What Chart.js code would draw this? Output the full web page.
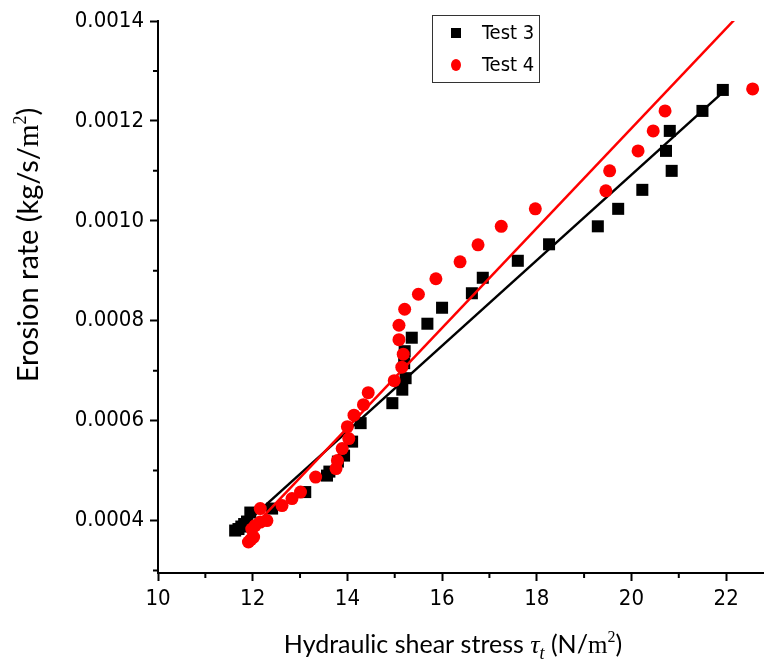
<!DOCTYPE html>
<html>
<head>
<meta charset="utf-8">
<script src="https://cdn.jsdelivr.net/npm/chart.js@4"></script>
<style>
    html, body { margin: 0; padding: 0; background: #fff; }
    canvas { display: block; }
</style>
</head>
<body>
<canvas id="erosionChart" width="764" height="668"></canvas>
<script>
// Erosion rate vs hydraulic shear stress - Test 3 / Test 4 with linear fits

const seriesNames = ['Test 3', 'Test 4'];

// Test 3 (black squares)
const test3X = [11.63, 11.70, 11.76, 11.82, 11.88, 11.95, 12.41, 13.11, 13.57, 13.62, 13.80, 13.93,
    14.10, 14.28, 14.95, 15.16, 15.23, 15.20, 15.21, 15.36, 15.69, 16.00, 16.63, 16.86, 17.60,
    18.26, 19.29, 19.72, 20.23, 20.73, 20.81, 20.85, 21.50, 21.93];
const test3Y = [0.000380, 0.000383, 0.000388, 0.000393, 0.000398, 0.000416, 0.000424, 0.000457, 0.000490, 0.000498, 0.000518, 0.000530,
    0.000558, 0.000595, 0.000635, 0.000662, 0.000685, 0.000715, 0.000739, 0.000766, 0.000794, 0.000826, 0.000855, 0.000886, 0.000920,
    0.000953, 0.000989, 0.001024, 0.001062, 0.001140, 0.001180, 0.001100, 0.001220, 0.001262];

// Test 4 (red circles)
const test4X = [11.91, 11.96, 12.02, 11.98, 12.05, 12.16, 12.16, 12.30, 12.62, 12.83, 13.01, 13.33,
    13.76, 13.79, 13.89, 14.03, 14.00, 14.14, 14.34, 14.44, 14.99, 15.15, 15.18, 15.09, 15.09,
    15.21, 15.50, 15.87, 16.38, 16.76, 17.25, 17.97, 19.46, 19.54, 20.14, 20.46, 20.71, 22.56];
const test4Y = [0.000357, 0.000362, 0.000367, 0.000383, 0.000390, 0.000397, 0.000424, 0.000400, 0.000430, 0.000444, 0.000457, 0.000487,
    0.000504, 0.000520, 0.000544, 0.000564, 0.000588, 0.000611, 0.000632, 0.000656, 0.000680, 0.000707, 0.000733, 0.000762, 0.000791,
    0.000823, 0.000853, 0.000884, 0.000918, 0.000952, 0.000989, 0.001024, 0.001060, 0.001100, 0.001140, 0.001180, 0.001220, 0.001264];

// linear fit lines, end points
const fit3X = [12.05, 21.94];
const fit3Y = [0.000412, 0.001258];
const fit4X = [12.05, 22.60];
const fit4Y = [0.000391, 0.001445];

// axis ticks
const xTicks = [10, 12, 14, 16, 18, 20, 22];
const yTicks = [0.0004, 0.0006, 0.0008, 0.0010, 0.0012, 0.0014];

const TICK_FONT = "'Liberation Sans Narrow', 'DejaVu Sans Condensed', 'Liberation Sans', sans-serif";
const TITLE_FONT = "Lato, 'Open Sans', sans-serif";
const MATH_FONT = "'Liberation Serif', 'DejaVu Serif', serif";

function toPoints(xs, ys) {
    return xs.map((x, i) => ({ x: x, y: ys[i] }));
}

// minor ticks halfway between the major ones
const minorTicks = {
    id: 'minorTicks',
    afterDraw(chart) {
        const ctx = chart.ctx;
        const xs = chart.scales.x;
        const ys = chart.scales.y;
        ctx.save();
        ctx.strokeStyle = '#000';
        ctx.lineWidth = 2;
        ctx.beginPath();
        for (let v = xs.min; v <= xs.max; v += 1) {
            if (xTicks.includes(v)) continue;
            const px = xs.getPixelForValue(v);
            ctx.moveTo(px, ys.bottom);
            ctx.lineTo(px, ys.bottom + 5);
        }
        for (let i = 0; i < yTicks.length; i++) {
            const v = yTicks[i] - 0.0001;
            if (v < ys.min) continue;
            const py = ys.getPixelForValue(v);
            ctx.moveTo(xs.left, py);
            ctx.lineTo(xs.left - 5, py);
        }
        ctx.stroke();
        ctx.restore();
    }
};

// draw a title made of pieces (plain text, math italic, sub/superscript)
function drawPieces(ctx, pieces) {
    let w = 0;
    pieces.forEach(p => { ctx.font = p.font; w += ctx.measureText(p.text).width; });
    let x = -w / 2;
    pieces.forEach(p => {
        ctx.font = p.font;
        ctx.fillText(p.text, x, p.dy || 0);
        x += ctx.measureText(p.text).width;
    });
}

const axisTitles = {
    id: 'axisTitles',
    afterDraw(chart) {
        const ctx = chart.ctx;
        ctx.save();
        ctx.fillStyle = '#000';
        ctx.textBaseline = 'alphabetic';
        ctx.textAlign = 'left';

        ctx.save();
        ctx.translate(453, 653);
        drawPieces(ctx, [
            { text: 'Hydraulic shear stress ', font: '25px ' + TITLE_FONT },
            { text: 'τ', font: 'italic 26px ' + MATH_FONT },
            { text: 't', font: 'italic 18px ' + MATH_FONT, dy: 6 },
            { text: ' (N/', font: '25px ' + TITLE_FONT },
            { text: 'm', font: '25px ' + MATH_FONT },
            { text: '2', font: '16px ' + MATH_FONT, dy: -11 },
            { text: ')', font: '25px ' + TITLE_FONT }
        ]);
        ctx.restore();

        ctx.save();
        ctx.translate(38, 245);
        ctx.rotate(-Math.PI / 2);
        drawPieces(ctx, [
            { text: 'Erosion rate (kg/s/', font: '29px ' + TITLE_FONT },
            { text: 'm', font: '29px ' + MATH_FONT },
            { text: '2', font: '18px ' + MATH_FONT, dy: -12 },
            { text: ')', font: '29px ' + TITLE_FONT }
        ]);
        ctx.restore();
        ctx.restore();
    }
};

// boxed legend in the upper part of the plot
const boxLegend = {
    id: 'boxLegend',
    afterDraw(chart) {
        const ctx = chart.ctx;
        ctx.save();
        ctx.strokeStyle = '#333';
        ctx.lineWidth = 1;
        ctx.strokeRect(432.5, 15.5, 107, 67);
        ctx.font = '20px ' + TICK_FONT;
        ctx.textBaseline = 'middle';
        ctx.fillStyle = '#000';
        const items = chart.data.datasets.filter(d => seriesNames.includes(d.label));
        items.sort((a, b) => seriesNames.indexOf(a.label) - seriesNames.indexOf(b.label));
        items.forEach((d, i) => {
            const cy = 33 + i * 32;
            ctx.fillStyle = d.backgroundColor;
            if (d.pointStyle === 'rect') {
                ctx.fillRect(451, cy - 5, 10, 10);
            } else {
                ctx.beginPath();
                ctx.ellipse(456, cy, 5, 6, 0, 0, Math.PI * 2);
                ctx.fill();
            }
            ctx.fillStyle = '#000';
            ctx.fillText(d.label, 482, cy + 1);
        });
        ctx.restore();
    }
};

const ctx = document.getElementById('erosionChart').getContext('2d');

new Chart(ctx, {
    type: 'scatter',
    data: {
        datasets: [{
            label: 'Test 4 fit',
            type: 'line',
            data: toPoints(fit4X, fit4Y),
            borderColor: '#ff0000',
            borderWidth: 2.5,
            pointRadius: 0,
            showLine: true,
            order: 1
        }, {
            label: seriesNames[1],
            data: toPoints(test4X, test4Y),
            pointStyle: 'circle',
            pointRadius: 6.5,
            backgroundColor: '#ff0000',
            borderColor: '#ff0000',
            borderWidth: 0,
            order: 2
        }, {
            label: 'Test 3 fit',
            type: 'line',
            data: toPoints(fit3X, fit3Y),
            borderColor: '#000000',
            borderWidth: 2.5,
            pointRadius: 0,
            showLine: true,
            order: 3
        }, {
            label: seriesNames[0],
            data: toPoints(test3X, test3Y),
            pointStyle: 'rect',
            pointRadius: 8.5,
            backgroundColor: '#000000',
            borderColor: '#000000',
            borderWidth: 0,
            order: 4
        }]
    },
    options: {
        responsive: false,
        animation: false,
        layout: { autoPadding: false, padding: { left: 0, right: 0, top: 21, bottom: 0 } },
        plugins: {
            legend: { display: false },
            tooltip: { enabled: false }
        },
        scales: {
            x: {
                type: 'linear',
                position: 'bottom',
                min: 10,
                max: 22.8,
                afterBuildTicks: scale => { scale.ticks = xTicks.map(v => ({ value: v })); },
                afterFit: scale => {
                    scale.height = 95;
                    scale.paddingLeft = 0;
                    scale.paddingRight = 0;
                },
                grid: { drawOnChartArea: false, drawTicks: true, tickLength: 8, tickWidth: 2, tickColor: '#000' },
                border: { color: '#000', width: 2 },
                ticks: {
                    color: '#000',
                    padding: 5,
                    maxRotation: 0,
                    font: { family: TICK_FONT, size: 22 },
                    callback: v => String(v)
                }
            },
            y: {
                type: 'linear',
                min: 0.000295,
                max: 0.0014,
                afterBuildTicks: scale => { scale.ticks = yTicks.map(v => ({ value: v })); },
                afterFit: scale => {
                    scale.width = 158;
                    scale.paddingTop = 0;
                    scale.paddingBottom = 0;
                },
                grid: { drawOnChartArea: false, drawTicks: true, tickLength: 8, tickWidth: 2, tickColor: '#000' },
                border: { color: '#000', width: 2 },
                ticks: {
                    color: '#000',
                    padding: 6,
                    font: { family: TICK_FONT, size: 22 },
                    callback: v => Number(v).toFixed(4)
                }
            }
        }
    },
    plugins: [minorTicks, axisTitles, boxLegend]
});
</script>
</body>
</html>
